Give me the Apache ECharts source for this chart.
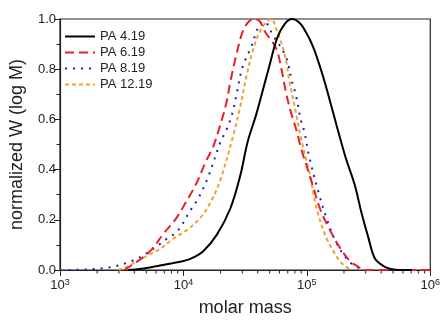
<!DOCTYPE html>
<html><head><meta charset="utf-8">
<script src="https://cdn.jsdelivr.net/npm/echarts@6/dist/echarts.min.js"></script>
<style>html,body{margin:0;padding:0;background:#fff}#c{width:443px;height:322px}</style>
</head><body><div id="c"></div>
<script>
// log10(molar mass) and normalized W values
var seriesNames = ['PA 4.19', 'PA 6.19', 'PA 8.19', 'PA 12.19'];
var logM_PA4 = [3.55,3.66,3.79,3.92,4.0,4.06,4.16,4.27,4.38,4.46,4.52,4.59,4.64,4.70,4.76,4.82,4.88,4.94,4.99,5.05,5.10,5.15,5.20,5.31,5.39,5.44,5.50,5.55,5.62,5.68,5.75,5.85];
var w_PA4    = [0,0.005,0.016,0.028,0.036,0.045,0.075,0.14,0.245,0.375,0.51,0.62,0.71,0.82,0.925,0.98,1.0,0.985,0.95,0.89,0.82,0.74,0.65,0.455,0.336,0.233,0.126,0.047,0.016,0.004,0,0];
var logM_PA6 = [3.52,3.63,3.74,3.84,3.94,4.02,4.10,4.18,4.24,4.30,4.35,4.38,4.43,4.48,4.53,4.58,4.62,4.66,4.75,4.79,4.83,4.87,4.92,4.95,5.04,5.11,5.18,5.26,5.35,5.42,5.47,6.0];
var w_PA6    = [0,0.035,0.08,0.146,0.205,0.27,0.34,0.43,0.49,0.58,0.67,0.75,0.86,0.95,0.99,1.0,0.99,0.95,0.885,0.81,0.71,0.63,0.55,0.49,0.35,0.24,0.166,0.095,0.035,0.012,0,0];
var logM_PA8 = [3.07,3.2,3.33,3.45,3.55,3.60,3.68,3.80,3.87,3.95,4.06,4.12,4.20,4.30,4.35,4.40,4.43,4.48,4.55,4.60,4.64,4.68,4.72,4.83,4.88,4.91,4.95,4.98,5.02,5.10,5.16,5.24,5.34,5.42,5.47];
var w_PA8    = [0,0.002,0.006,0.015,0.03,0.04,0.06,0.1,0.126,0.154,0.24,0.285,0.37,0.51,0.56,0.63,0.70,0.81,0.89,0.96,0.99,0.98,0.94,0.85,0.75,0.70,0.60,0.55,0.45,0.30,0.205,0.107,0.035,0.008,0];
var logM_PA12 = [3.47,3.53,3.60,3.70,3.82,3.92,4.03,4.14,4.22,4.30,4.40,4.46,4.51,4.56,4.63,4.71,4.76,4.82,4.86,4.91,4.95,5.02,5.08,5.16,5.26,5.31,5.36];
var w_PA12    = [0,0.01,0.028,0.055,0.087,0.126,0.16,0.21,0.27,0.36,0.53,0.65,0.77,0.87,0.96,1.0,0.95,0.86,0.75,0.63,0.53,0.39,0.245,0.126,0.04,0.015,0];
var xTickExponents = [3,4,5,6];
var minorMultipliers = [2,3,4,5,6,7,8,9];

function pairs(lx, w){ return lx.map(function(l,i){ return [l, w[i]]; }); }
var minorTicks = [];
for (var d = 0; d < xTickExponents.length - 1; d++) {
  minorMultipliers.forEach(function(k){ minorTicks.push([xTickExponents[d] + Math.log10(k), 0]); });
}
var FONT = 'Liberation Sans, Arial, sans-serif';
var TXT = '#222';
var chart = echarts.init(document.getElementById('c'));
var styles = [
  {color:'#000000', type:'solid'},
  {color:'#e8202a', type:[9,5]},
  {color:'#1c1ccf', type:[2,6]},
  {color:'#f2a033', type:[4,3]}
];
var datas = [pairs(logM_PA4,w_PA4), pairs(logM_PA6,w_PA6), pairs(logM_PA8,w_PA8), pairs(logM_PA12,w_PA12)];
var series = datas.map(function(d,i){
  return {
    name: seriesNames[i], type:'line', data:d, symbol:'none', smooth:0.35,
    lineStyle:{color:styles[i].color, width:2, type:styles[i].type},
    itemStyle:{color:styles[i].color}, z: 4 - i
  };
});
series.push({
  type:'custom', name:'minor', data:minorTicks, silent:true, clip:false,
  renderItem:function(params, api){
    var p = api.coord([api.value(0), 0]);
    return {type:'line', shape:{x1:p[0], y1:p[1], x2:p[0], y2:p[1]+3.5}, style:{stroke:'#222', lineWidth:1}};
  }
});
chart.setOption({
  animation:false,
  grid:{left:58, right:10, top:19, bottom:51, show:true, borderColor:'#222', borderWidth:1.2},
  legend:{
    data:seriesNames, orient:'vertical', left:64, top:30, padding:0, itemWidth:30, itemHeight:12, itemGap:3,
    itemStyle:{opacity:0},
    textStyle:{fontFamily:FONT, fontSize:13, color:TXT}
  },
  xAxis:{
    type:'value', min:3, max:6, interval:1,
    name:'molar mass', nameLocation:'middle', nameGap:29,
    nameTextStyle:{fontFamily:FONT, fontSize:18, color:TXT},
    axisLine:{lineStyle:{color:'#222', width:1.2}},
    axisTick:{show:true, length:6, lineStyle:{color:'#222'}},
    splitLine:{show:false},
    axisLabel:{
      fontFamily:FONT, fontSize:13, color:TXT, margin:8,
      formatter:function(v){ return '10{s|' + Math.round(v) + '}'; },
      rich:{s:{fontSize:9, fontFamily:FONT, color:TXT, verticalAlign:'top', padding:[0,0,6,0]}}
    }
  },
  yAxis:{
    type:'value', min:0, max:1, interval:0.2,
    name:'normalized W (log M)', nameLocation:'middle', nameGap:34,
    nameTextStyle:{fontFamily:FONT, fontSize:18, color:TXT},
    axisLine:{show:true, lineStyle:{color:'#222', width:1.2}},
    axisTick:{show:true, length:6, lineStyle:{color:'#222'}},
    minorTick:{show:true, splitNumber:2, length:3.5, lineStyle:{color:'#222'}},
    splitLine:{show:false},
    axisLabel:{fontFamily:FONT, fontSize:13, color:TXT, margin:4,
      formatter:function(v){ return v.toFixed(1); }}
  },
  series:series
});
</script></body></html>
